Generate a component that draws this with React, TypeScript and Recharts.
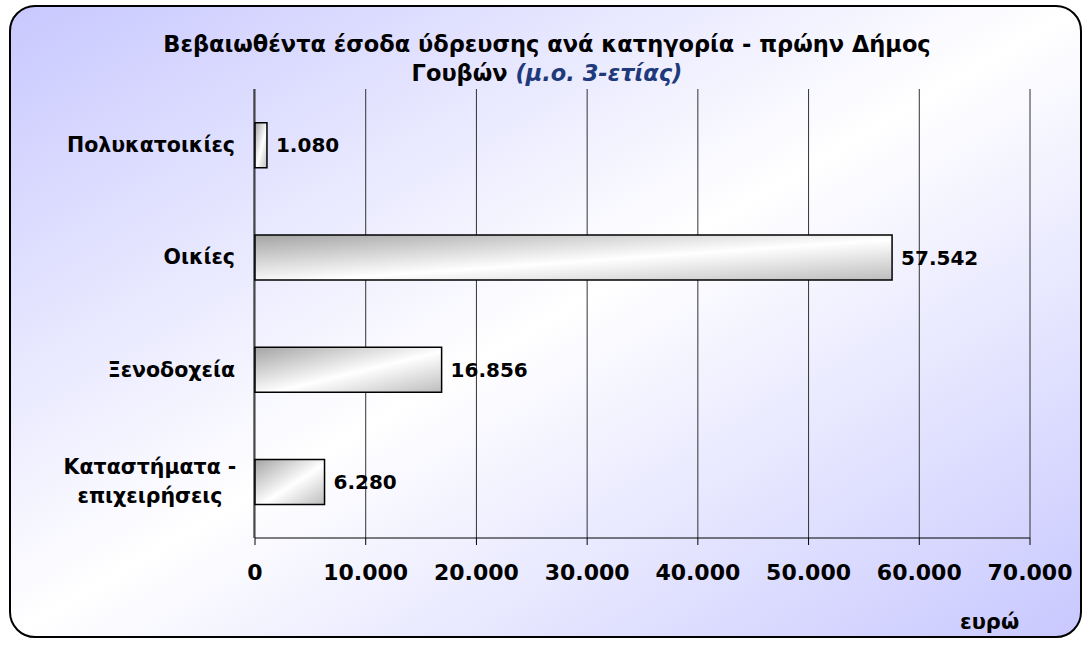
import React from 'react';
import { BarChart, Bar, XAxis, YAxis, CartesianGrid, LabelList } from 'recharts';

// categories, top to bottom
const categories = ['Πολυκατοικίες', 'Οικίες', 'Ξενοδοχεία', 'Καταστήματα -\nεπιχειρήσεις'];
// average revenue (3 years), euro
const revenue = [1080, 57542, 16856, 6280];
const xTicks = [0, 10000, 20000, 30000, 40000, 50000, 60000, 70000];
const boundaryTicks = [0, 1, 2, 3, 4];

const data = categories.map((name, i) => ({ name, value: revenue[i] }));

const FONT = '"DejaVu Sans", Verdana, sans-serif';

const fmt = (v: number) => String(v).replace(/\B(?=(\d{3})+(?!\d))/g, '.');

function CategoryTick(props: any) {
  const { x, y, payload } = props;
  const lines: string[] = String(payload.value).split('\n');
  const multi = lines.length > 1;
  const lh = 29;
  const y0 = y - ((lines.length - 1) * lh) / 2;
  const tx = multi ? x - 85 : x;
  return (
    <text
      x={tx}
      y={y0}
      textAnchor={multi ? 'middle' : 'end'}
      dominantBaseline="central"
      fontFamily={FONT}
      fontWeight="bold"
      fontSize={20.5}
      fill="#000"
    >
      {lines.map((l, i) => (
        <tspan key={i} x={tx} dy={i === 0 ? 0 : lh}>
          {l}
        </tspan>
      ))}
    </text>
  );
}

export default function App() {
  return (
    <div
      style={{
        position: 'absolute',
        left: 9,
        top: 5,
        width: 1069,
        height: 629,
        border: '2px solid #000',
        borderRadius: 26,
        background: 'linear-gradient(to bottom right, #c8c8ff 0%, #ffffff 50%, #c8c8ff 100%)',
        fontFamily: FONT,
      }}
    >
      {/* Title */}
      <div
        style={{
          position: 'absolute',
          left: 0,
          top: 23,
          width: 1072,
          textAlign: 'center',
          fontWeight: 'bold',
          fontSize: 22.5,
          lineHeight: '29px',
          color: '#000',
        }}
      >
        Βεβαιωθέντα έσοδα ύδρευσης ανά κατηγορία - πρώην Δήμος
        <br />
        Γουβών <span style={{ fontStyle: 'italic', color: '#1f3a7a' }}>(μ.ο. 3-ετίας)</span>
      </div>

      <div style={{ position: 'absolute', left: 0, top: 0 }}>
        <BarChart
          width={1069}
          height={629}
          data={data}
          layout="vertical"
          margin={{ top: 82, right: 50, bottom: 58, left: 242 }}
          barCategoryGap="30%"
        >
          <defs>
            <linearGradient id="barFill" x1="0" y1="0" x2="1" y2="1">
              <stop offset="0%" stopColor="#a4a4a4" />
              <stop offset="55%" stopColor="#ffffff" />
              <stop offset="100%" stopColor="#bdbdbd" />
            </linearGradient>
          </defs>
          <CartesianGrid horizontal={false} stroke="#333" strokeWidth={1} />
          <XAxis
            type="number"
            domain={[0, 70000]}
            ticks={xTicks}
            tickFormatter={fmt}
            interval={0}
            axisLine={{ stroke: '#000', strokeWidth: 1 }}
            tickLine={{ stroke: '#000' }}
            tickSize={7}
            tickMargin={19}
            height={40}
            tick={{ fontFamily: FONT, fontWeight: 'bold', fontSize: 22, fill: '#000' }}
          />
          <YAxis
            type="category"
            dataKey="name"
            width={1}
            axisLine={false}
            tickLine={false}
            tickMargin={14}
            interval={0}
            tick={<CategoryTick />}
          />
          <YAxis
            yAxisId="bounds"
            type="number"
            domain={[0, 4]}
            ticks={boundaryTicks}
            width={1}
            tick={false}
            axisLine={{ stroke: '#000', strokeWidth: 1 }}
            tickLine={{ stroke: '#000' }}
            tickSize={6}
          />
          <Bar
            dataKey="value"
            fill="url(#barFill)"
            stroke="#000"
            strokeWidth={1.5}
            isAnimationActive={false}
          >
            <LabelList
              dataKey="value"
              position="right"
              offset={9}
              formatter={(v: any) => fmt(Number(v))}
              style={{ fontFamily: FONT, fontWeight: 'bold', fontSize: 20, fill: '#000' }}
            />
          </Bar>
        </BarChart>
      </div>

      <div
        style={{
          position: 'absolute',
          left: 949,
          top: 603,
          fontWeight: 'bold',
          fontSize: 21,
          lineHeight: '24px',
          color: '#000',
        }}
      >
        ευρώ
      </div>
    </div>
  );
}
